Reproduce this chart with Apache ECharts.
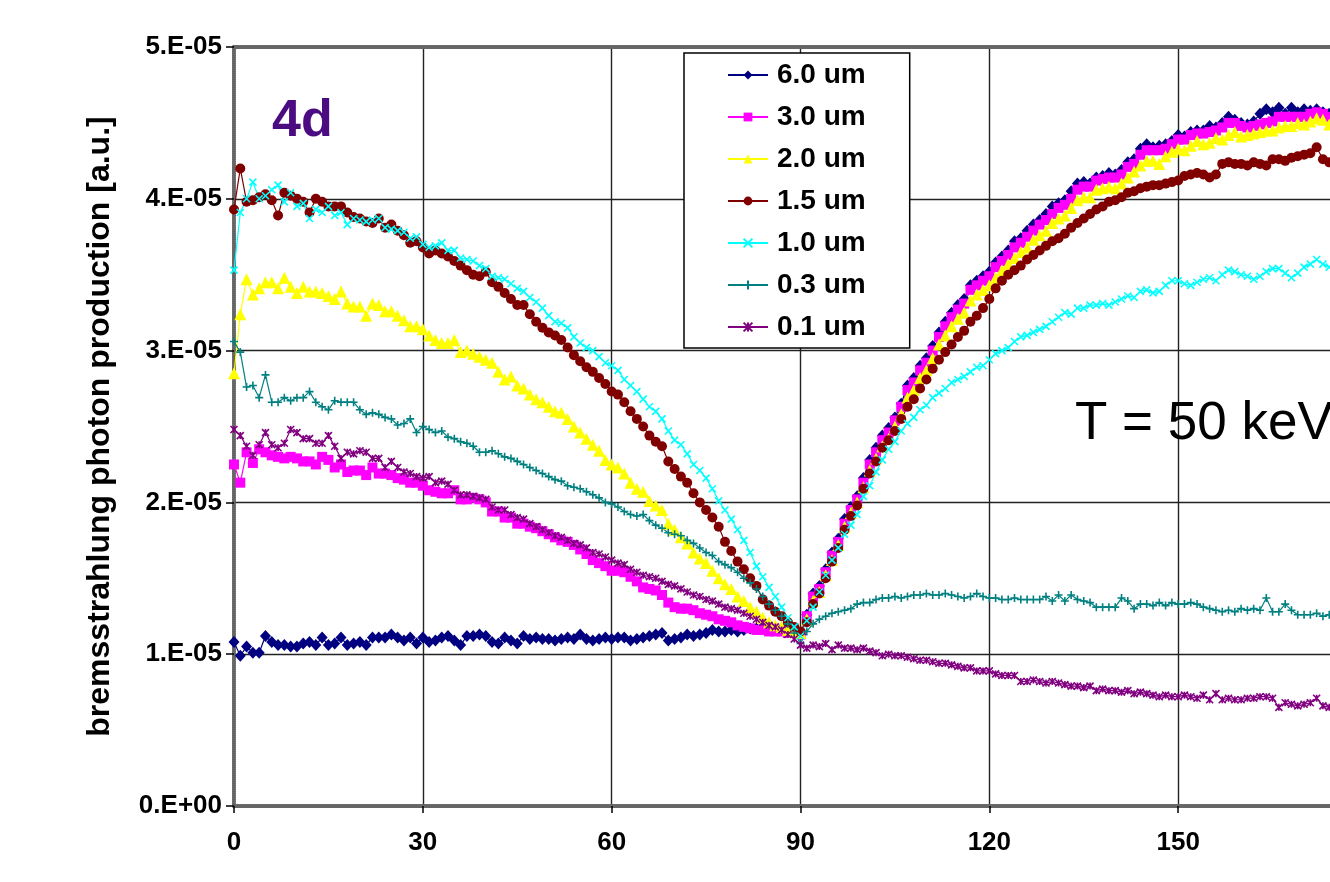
<!DOCTYPE html>
<html>
<head>
<meta charset="utf-8">
<title>bremsstrahlung photon production</title>
<script src="https://cdn.jsdelivr.net/npm/echarts@6/dist/echarts.min.js"></script>
<style>
    html, body { margin: 0; padding: 0; background: #fff; }
    #chart { width: 1330px; height: 882px; }
</style>
</head>
<body>
<div id="chart"></div>
<script>
// layer thicknesses (legend order)
var names = ['6.0 um', '3.0 um', '2.0 um', '1.5 um', '1.0 um', '0.3 um', '0.1 um'];
var yTickLabels = ['0.E+00', '1.E-05', '2.E-05', '3.E-05', '4.E-05', '5.E-05'];

// photon production per degree (0..175), in units of 1E-06
var v60 = [10.8, 9.9, 10.5, 10.1, 10.1, 11.2, 10.8, 10.6, 10.6, 10.5,
    10.5, 10.7, 10.8, 10.6, 11.1, 10.6, 10.7, 11.1, 10.6, 10.7,
    10.8, 10.6, 11.1, 11.1, 11.1, 11.3, 11.1, 10.9, 11.1, 10.7,
    11.1, 10.8, 10.9, 11.1, 11.2, 10.9, 10.6, 11.2, 11.2, 11.3,
    11.2, 10.8, 10.7, 11.1, 10.9, 10.7, 11.2, 11.0, 11.1, 11.0,
    11.0, 10.9, 11.0, 11.1, 11.0, 11.3, 11.0, 10.9, 11.0, 11.1,
    11.0, 11.1, 11.1, 10.9, 11.0, 11.1, 11.2, 11.3, 11.4, 10.9,
    11.0, 11.1, 11.3, 11.2, 11.3, 11.4, 11.6, 11.5, 11.5, 11.6,
    11.5, 11.6, 11.7, 11.7, 11.8, 11.8, 11.7, 11.7, 11.6, 11.5,
    11.3, 12.6, 14.0, 14.5, 15.6, 16.7, 17.6, 18.9, 19.7, 20.4,
    21.6, 22.8, 23.6, 24.4, 24.9, 25.6, 26.5, 27.7, 28.2, 29.0,
    29.5, 30.3, 31.2, 31.9, 32.5, 33.0, 33.4, 34.3, 34.6, 34.9,
    35.2, 35.8, 36.2, 36.6, 37.2, 37.4, 37.9, 38.3, 38.6, 39.0,
    39.5, 39.7, 39.9, 40.5, 41.0, 41.1, 41.0, 41.4, 41.5, 41.7,
    41.6, 41.9, 42.4, 42.6, 43.3, 43.6, 43.4, 43.5, 43.6, 43.8,
    44.2, 44.1, 44.4, 44.5, 44.5, 44.8, 44.7, 45.0, 45.4, 45.2,
    45.0, 44.9, 45.1, 45.6, 45.9, 45.7, 46.0, 45.6, 46.0, 45.7,
    45.9, 45.8, 45.9, 45.7, 45.6, 45.6];
var v30 = [22.5, 21.3, 23.3, 22.6, 23.5, 23.3, 23.1, 23.0, 22.9, 23.0,
    22.9, 22.7, 22.7, 22.5, 23.0, 22.8, 22.3, 22.5, 22.0, 22.1,
    22.1, 21.8, 22.3, 21.9, 21.9, 21.8, 21.6, 21.5, 21.3, 21.3,
    21.1, 20.8, 20.7, 20.6, 20.6, 20.8, 20.2, 20.2, 20.3, 20.2,
    20.0, 19.4, 19.4, 19.0, 19.0, 18.6, 18.6, 18.4, 18.3, 18.1,
    17.9, 17.7, 17.5, 17.4, 17.2, 16.9, 16.6, 16.2, 16.0, 15.8,
    15.5, 15.5, 15.4, 15.1, 14.8, 14.4, 14.3, 14.2, 13.9, 13.4,
    13.1, 13.0, 13.0, 12.9, 12.7, 12.6, 12.5, 12.3, 12.2, 12.1,
    11.9, 11.8, 11.7, 11.6, 11.6, 11.5, 11.5, 11.5, 11.4, 11.4,
    11.3, 12.5, 13.8, 14.3, 15.4, 16.5, 17.4, 18.6, 19.5, 20.2,
    21.3, 22.5, 23.3, 24.1, 24.6, 25.4, 26.3, 27.4, 27.9, 28.7,
    29.2, 30.0, 30.9, 31.6, 32.2, 32.7, 33.1, 34.0, 34.3, 34.6,
    34.9, 35.5, 35.9, 36.3, 36.8, 37.1, 37.5, 37.9, 38.3, 38.6,
    39.0, 39.4, 39.6, 40.0, 40.6, 40.8, 40.8, 41.2, 41.3, 41.4,
    41.4, 41.6, 42.1, 42.3, 42.9, 43.2, 43.2, 43.2, 43.3, 43.6,
    43.9, 43.9, 44.2, 44.3, 44.3, 44.4, 44.5, 44.7, 45.0, 45.0,
    44.8, 44.7, 44.8, 44.9, 45.0, 45.1, 45.4, 45.4, 45.4, 45.4,
    45.4, 45.6, 45.7, 45.6, 45.4, 45.5];
var v20 = [28.5, 32.4, 34.7, 33.7, 34.1, 34.5, 34.5, 34.1, 34.8, 34.2,
    33.8, 34.2, 33.9, 33.9, 33.8, 33.6, 33.4, 33.9, 33.1, 32.9,
    32.9, 32.3, 33.1, 33.0, 32.6, 32.6, 32.3, 32.0, 31.6, 31.6,
    31.4, 31.0, 30.7, 30.5, 30.5, 30.7, 29.9, 30.0, 29.8, 29.6,
    29.4, 29.2, 28.6, 28.1, 28.3, 27.7, 27.5, 27.1, 26.8, 26.6,
    26.3, 26.0, 25.9, 25.5, 25.0, 24.6, 24.2, 23.8, 23.4, 22.8,
    22.5, 22.3, 21.9, 21.3, 20.9, 20.7, 20.1, 19.8, 19.5, 18.6,
    18.2, 17.7, 17.3, 16.7, 16.3, 16.0, 15.5, 15.0, 14.6, 14.3,
    13.8, 13.5, 13.1, 12.8, 12.4, 12.1, 11.9, 11.8, 11.6, 11.5,
    11.4, 12.3, 13.5, 14.1, 15.2, 16.2, 17.2, 18.4, 19.3, 20.0,
    21.0, 22.1, 22.9, 23.7, 24.2, 25.0, 25.8, 26.9, 27.4, 28.2,
    28.7, 29.5, 30.4, 31.0, 31.6, 32.1, 32.5, 33.3, 33.7, 34.0,
    34.3, 34.8, 35.3, 35.7, 36.1, 36.5, 36.8, 37.3, 37.6, 37.9,
    38.4, 38.7, 38.9, 39.4, 39.9, 40.1, 40.1, 40.6, 40.7, 40.8,
    40.7, 41.0, 41.4, 41.8, 42.2, 42.5, 42.5, 42.3, 42.8, 43.1,
    43.3, 43.2, 43.5, 43.8, 43.6, 43.7, 44.0, 43.9, 44.2, 44.4,
    44.1, 44.2, 44.3, 44.4, 44.5, 44.5, 44.7, 44.8, 44.8, 45.0,
    44.9, 45.1, 45.3, 45.2, 44.9, 45.0];
var v15 = [39.3, 42.0, 39.8, 39.9, 40.1, 40.3, 39.9, 38.9, 40.4, 40.2,
    40.0, 39.8, 39.1, 40.0, 39.8, 39.5, 39.5, 39.5, 39.1, 38.8,
    38.7, 38.5, 38.4, 38.7, 38.1, 38.3, 37.9, 37.6, 37.1, 37.2,
    36.8, 36.4, 36.6, 36.4, 36.2, 35.9, 35.6, 35.3, 35.0, 34.9,
    35.2, 34.5, 34.2, 33.8, 33.4, 33.0, 33.0, 32.4, 31.9, 31.5,
    31.2, 31.0, 30.7, 30.2, 29.7, 29.3, 28.9, 28.6, 28.2, 27.8,
    27.3, 27.1, 26.6, 26.0, 25.5, 25.0, 24.4, 24.0, 23.7, 22.7,
    22.2, 21.7, 21.3, 20.6, 20.0, 19.5, 19.0, 18.4, 17.4, 16.8,
    16.1, 15.6, 15.0, 14.5, 13.6, 13.2, 12.8, 12.5, 12.1, 11.8,
    11.5, 12.1, 13.3, 14.0, 15.0, 16.1, 17.0, 18.2, 19.1, 19.8,
    20.9, 21.9, 22.7, 23.6, 24.1, 24.7, 25.5, 26.3, 26.8, 27.5,
    28.1, 28.8, 29.4, 29.9, 30.4, 30.9, 31.3, 31.9, 32.3, 32.8,
    33.4, 34.1, 34.6, 35.0, 35.3, 35.6, 36.0, 36.3, 36.6, 36.9,
    37.2, 37.4, 37.7, 38.1, 38.4, 38.7, 39.0, 39.3, 39.5, 39.8,
    39.9, 40.1, 40.4, 40.5, 40.7, 40.8, 40.9, 40.9, 41.0, 41.1,
    41.2, 41.5, 41.6, 41.7, 41.6, 41.4, 41.6, 42.3, 42.4, 42.3,
    42.3, 42.2, 42.4, 42.3, 42.2, 42.6, 42.6, 42.5, 42.7, 42.8,
    42.9, 43.0, 43.4, 42.6, 42.4, 42.5];
var v10 = [35.3, 39.1, 40.0, 41.1, 40.0, 40.2, 40.6, 40.9, 39.8, 40.4,
    39.5, 39.7, 38.7, 39.3, 39.1, 39.5, 38.9, 39.1, 38.3, 38.7,
    38.6, 38.5, 38.6, 38.7, 38.1, 38.0, 37.9, 37.8, 37.4, 37.5,
    37.0, 36.8, 36.9, 37.1, 36.6, 36.6, 36.1, 36.0, 35.9, 35.6,
    35.4, 34.9, 34.8, 34.7, 34.4, 34.1, 33.9, 33.5, 33.2, 32.8,
    32.3, 31.9, 31.8, 31.5, 30.9, 30.5, 30.2, 30.0, 29.6, 29.2,
    29.0, 28.7, 28.1, 27.7, 27.3, 26.8, 26.3, 26.0, 25.5, 24.7,
    24.1, 23.8, 23.2, 22.5, 22.1, 21.6, 20.9, 20.1, 19.5, 18.9,
    18.2, 17.5, 16.7, 15.8, 15.1, 14.4, 13.8, 13.1, 12.4, 11.8,
    11.2, 12.2, 13.1, 14.1, 15.2, 16.2, 17.0, 17.9, 18.5, 19.2,
    20.4, 21.1, 22.0, 22.8, 23.5, 24.0, 24.7, 25.2, 25.6, 26.1,
    26.4, 26.9, 27.2, 27.5, 27.9, 28.1, 28.3, 28.6, 28.9, 29.0,
    29.4, 29.8, 30.0, 30.2, 30.6, 30.9, 31.0, 31.2, 31.4, 31.6,
    31.9, 32.2, 32.5, 32.4, 32.8, 32.8, 33.0, 33.0, 33.1, 33.0,
    33.2, 33.4, 33.6, 33.5, 33.9, 34.0, 33.8, 33.9, 34.3, 34.6,
    34.6, 34.4, 34.3, 34.5, 34.7, 34.8, 34.6, 35.0, 35.3, 35.2,
    35.0, 34.9, 34.7, 34.9, 35.2, 35.4, 35.4, 35.1, 34.8, 35.1,
    35.5, 35.7, 36.0, 35.7, 35.5, 35.6];
var v03 = [30.6, 29.9, 27.6, 27.7, 26.9, 28.4, 26.6, 26.6, 26.9, 26.7,
    26.9, 26.9, 27.3, 26.6, 26.3, 26.1, 26.7, 26.6, 26.6, 26.6,
    26.1, 25.8, 25.9, 25.8, 25.6, 25.5, 25.1, 25.2, 25.5, 24.6,
    25.0, 24.8, 24.6, 24.7, 24.3, 24.2, 24.0, 23.9, 23.7, 23.3,
    23.3, 23.4, 23.2, 23.0, 22.9, 22.7, 22.5, 22.3, 22.1, 21.9,
    21.7, 21.5, 21.4, 21.1, 21.0, 20.9, 20.7, 20.5, 20.3, 20.0,
    19.9, 19.7, 19.4, 19.2, 19.1, 19.2, 18.8, 18.5, 18.3, 18.0,
    17.9, 17.8, 17.5, 17.3, 17.0, 16.7, 16.5, 16.1, 15.9, 15.7,
    15.4, 15.0, 14.7, 14.3, 13.8, 13.3, 12.9, 12.5, 12.0, 11.4,
    10.7, 11.5, 12.0, 12.3, 12.5, 12.7, 12.8, 12.9, 13.0, 13.3,
    13.4, 13.4, 13.6, 13.7, 13.7, 13.8, 13.7, 13.8, 13.9, 13.9,
    14.0, 13.9, 13.9, 14.0, 13.9, 13.8, 13.7, 13.8, 14.0, 13.8,
    13.7, 13.7, 13.6, 13.6, 13.7, 13.6, 13.6, 13.6, 13.6, 13.8,
    13.5, 13.9, 13.5, 13.9, 13.6, 13.5, 13.4, 13.1, 13.1, 13.1,
    13.1, 13.7, 13.5, 13.0, 13.3, 13.3, 13.2, 13.4, 13.2, 13.4,
    13.3, 13.3, 13.4, 13.3, 13.1, 13.0, 12.9, 12.8, 12.9, 12.8,
    13.0, 12.9, 13.0, 12.9, 13.7, 12.8, 12.8, 13.3, 12.9, 12.6,
    12.6, 12.6, 12.7, 12.5, 12.6, 12.6];
var v01 = [24.8, 24.4, 23.7, 23.1, 23.8, 24.6, 23.8, 23.6, 23.9, 24.8,
    24.6, 24.2, 24.2, 23.9, 23.9, 24.4, 23.7, 22.9, 23.3, 23.2,
    23.4, 23.3, 22.9, 22.9, 22.3, 22.7, 22.3, 22.0, 21.9, 21.7,
    21.6, 21.7, 21.3, 21.4, 21.2, 20.8, 20.5, 20.5, 20.4, 20.3,
    20.2, 19.7, 19.5, 19.5, 19.2, 19.0, 18.9, 18.6, 18.4, 18.2,
    18.0, 17.8, 17.7, 17.5, 17.3, 17.2, 17.0, 16.7, 16.6, 16.4,
    16.2, 16.0, 15.9, 15.6, 15.4, 15.2, 15.1, 15.0, 14.8, 14.6,
    14.5, 14.3, 14.1, 13.9, 13.8, 13.6, 13.5, 13.3, 13.1, 13.0,
    12.9, 12.7, 12.5, 12.3, 12.1, 11.9, 11.8, 11.6, 11.3, 11.0,
    10.6, 10.4, 10.6, 10.5, 10.7, 10.3, 10.6, 10.4, 10.4, 10.3,
    10.4, 10.2, 10.1, 9.9, 10.0, 9.9, 9.9, 9.8, 9.7, 9.6,
    9.6, 9.5, 9.4, 9.4, 9.3, 9.2, 9.1, 9.1, 8.9, 8.9,
    8.9, 8.7, 8.6, 8.6, 8.6, 8.2, 8.2, 8.3, 8.2, 8.1,
    8.2, 8.1, 8.0, 7.9, 7.9, 7.8, 7.9, 7.6, 7.7, 7.6,
    7.6, 7.5, 7.6, 7.4, 7.5, 7.4, 7.3, 7.2, 7.3, 7.2,
    7.2, 7.3, 7.2, 7.1, 7.3, 7.0, 7.4, 7.0, 7.1, 7.0,
    7.0, 7.1, 7.1, 7.2, 7.2, 7.1, 6.5, 6.8, 6.7, 6.6,
    6.7, 6.8, 7.1, 6.6, 6.5, 6.5];

var values = [v60, v30, v20, v15, v10, v03, v01];

// marker styles, same order as names
var colors = ['#000080', '#ff00ff', '#ffff00', '#800000', '#00ffff', '#008080', '#800080'];
var symbols = ['diamond', 'rect', 'triangle', 'circle',
    'path://M0,0L10,10M10,0L0,10',
    'path://M5,0L5,10M0,5L10,5',
    'path://M0,0L10,10M10,0L0,10M5,0L5,10'];
var symbolSizes = [[11, 12], 10, 12, 10, 7, 8, 7];
var strokeMarker = [false, false, false, false, true, true, true];

function toPoints(arr) {
    // x = angle in degrees (one sample per degree)
    return arr.map(function (v, i) { return [i, v]; });
}

var myChart = echarts.init(document.getElementById('chart'), null, { renderer: 'canvas' });

var series = names.map(function (n, k) {
    return {
        name: n,
        type: 'line',
        data: toPoints(values[k]),
        symbol: symbols[k],
        symbolSize: symbolSizes[k],
        showSymbol: true,
        clip: false,
        lineStyle: { color: colors[k], width: 1.2 },
        itemStyle: {
            color: colors[k],
            borderColor: colors[k],
            borderWidth: strokeMarker[k] ? 1.6 : 0
        },
        emphasis: { disabled: true },
        animation: false
    };
});

// Excel-style "selected" axis border: grey hatching
var hatched = { color: '#666', width: 4, type: [1, 1] };
var font = 'Arial, "Liberation Sans", sans-serif';

var option = {
    backgroundColor: '#fff',
    animation: false,
    grid: {
        left: 234, top: 47, right: -37, bottom: 76,
        containLabel: false,
        outerBoundsMode: 'none'
    },
    legend: {
        orient: 'vertical',
        left: 684,
        top: 53,
        padding: [8, 44, 7, 43],
        itemGap: 14,
        itemWidth: 40,
        itemHeight: 11,
        backgroundColor: '#fff',
        borderColor: '#000',
        borderWidth: 1.5,
        textStyle: {
            fontFamily: font, fontWeight: 'bold', fontSize: 28, color: '#000',
            lineHeight: 27, padding: [0, 0, 0, 4]
        },
        data: names
    },
    xAxis: [{
        type: 'value',
        min: 0, max: 180, interval: 30,
        axisLine: { show: true, onZero: false, lineStyle: hatched },
        axisTick: { show: true, inside: false, length: 7, lineStyle: { color: '#000', width: 1.5 } },
        axisLabel: { margin: 24, color: '#000', fontFamily: font, fontWeight: 'bold', fontSize: 26 },
        splitLine: { show: true, showMinLine: false, showMaxLine: false, lineStyle: { color: '#222', width: 1.4 } }
    }, {
        type: 'value', position: 'top',
        min: 0, max: 180, interval: 30,
        axisLine: { show: true, onZero: false, lineStyle: hatched },
        axisTick: { show: false }, axisLabel: { show: false }, splitLine: { show: false }
    }],
    yAxis: {
        type: 'value',
        min: 0, max: 50, interval: 10,
        name: 'bremsstrahlung photon production [a.u.]',
        nameLocation: 'middle',
        nameGap: 118,
        nameTextStyle: { fontFamily: font, fontWeight: 'bold', fontSize: 32, color: '#000' },
        axisLine: { show: true, onZero: false, lineStyle: hatched },
        axisTick: { show: true, length: 8, lineStyle: { color: '#000', width: 1.5 } },
        axisLabel: {
            margin: 12, color: '#000', fontFamily: font, fontWeight: 'bold', fontSize: 26,
            formatter: function (v) { return yTickLabels[Math.round(v / 10)]; }
        },
        splitLine: { show: true, showMinLine: false, showMaxLine: false, lineStyle: { color: '#222', width: 1.4 } }
    },
    graphic: [{
        type: 'text', left: 272, top: 96, z: 100,
        style: { text: '4d', font: 'bold 52px ' + font, fill: '#4b0c82' }
    }, {
        type: 'text', left: 1075, top: 398, z: 100,
        style: { text: 'T = 50 keV', font: '53px ' + font, fill: '#000' }
    }],
    series: series
};

myChart.setOption(option);
window.addEventListener('resize', function () {
    myChart.resize();
});
</script>
</body>
</html>
